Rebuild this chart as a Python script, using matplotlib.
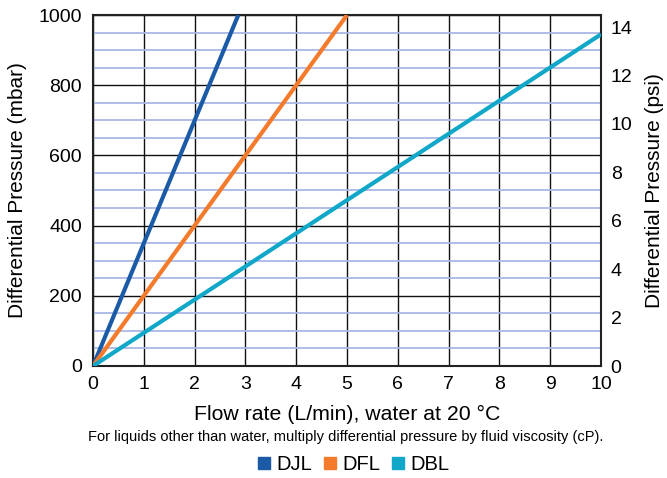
import matplotlib
matplotlib.use("Agg")
import matplotlib.pyplot as plt
from matplotlib.lines import Line2D

plt.rcParams['font.family'] = ['Liberation Sans', 'DejaVu Sans']

# data
series_names = ['DJL', 'DFL', 'DBL']
series_colors = ['#1a5aa6', '#f47a2c', '#10a7c9']
flow_djl = [0, 2.86]
dp_djl = [0, 1000]
flow_dfl = [0, 5.0]
dp_dfl = [0, 1000]
flow_dbl = [0, 10.0]
dp_dbl = [0, 945]

x_ticks = list(range(0, 11))
y_ticks = [0, 200, 400, 600, 800, 1000]
psi_ticks = [0, 2, 4, 6, 8, 10, 12, 14]
MBAR_TO_PSI = 0.0145038

fig = plt.figure(figsize=(6.67, 4.78), dpi=100)
ax = fig.add_axes([93 / 667, 1 - 366 / 478, 508 / 667, 351 / 478])

# light blue lines every 50 mbar, black every 200
minor = [v for v in range(50, 1000, 50) if v % 200 != 0]
ax.set_yticks(minor, minor=True)
ax.grid(which='minor', axis='y', color='#a9b9e6', lw=1.3, zorder=0)
ax.grid(which='major', axis='both', color='#111111', lw=1.0, zorder=0.5)

ax.plot(flow_djl, dp_djl, color=series_colors[0], lw=3.0, zorder=3, solid_capstyle='butt')
ax.plot(flow_dfl, dp_dfl, color=series_colors[1], lw=3.0, zorder=3, solid_capstyle='butt')
ax.plot(flow_dbl, dp_dbl, color=series_colors[2], lw=3.0, zorder=3, solid_capstyle='butt')

ax.set_xlim(0, 10)
ax.set_ylim(0, 1000)
ax.set_xticks(x_ticks)
ax.set_yticks(y_ticks)
ax.tick_params(axis='both', which='both', length=0, labelsize=14, colors='black')
ax.tick_params(axis='x', pad=7)
ax.tick_params(axis='y', pad=8)
for s in ax.spines.values():
    s.set_linewidth(1.5)
    s.set_color('#222222')

ax.set_ylabel('Differential Pressure (mbar)', fontsize=15, labelpad=8)
ax.set_xlabel('Flow rate (L/min), water at 20 °C', fontsize=15.3, labelpad=9)

ax2 = ax.twinx()
ax2.set_ylim(0, 1000 * MBAR_TO_PSI)
ax2.set_yticks(psi_ticks)
ax2.tick_params(axis='y', length=0, labelsize=14, pad=7)
for s in ax2.spines.values():
    s.set_visible(False)
ax2.set_ylabel('Differential Pressure (psi)', fontsize=15, labelpad=9)

fig.text(0.519, 1 - 437 / 478,
         'For liquids other than water, multiply differential pressure by fluid viscosity (cP).',
         ha='center', va='center', fontsize=10.5)

handles = [Line2D([], [], ls='none', marker='s', markersize=8, color=c) for c in series_colors]
fig.legend(handles, series_names, loc='center', bbox_to_anchor=(0.531, 1 - 465 / 478), ncol=3,
           frameon=False, fontsize=14.5, handlelength=0.55, handletextpad=0.35, columnspacing=0.6,
           borderpad=0)

fig.savefig('out.png', dpi=100)
